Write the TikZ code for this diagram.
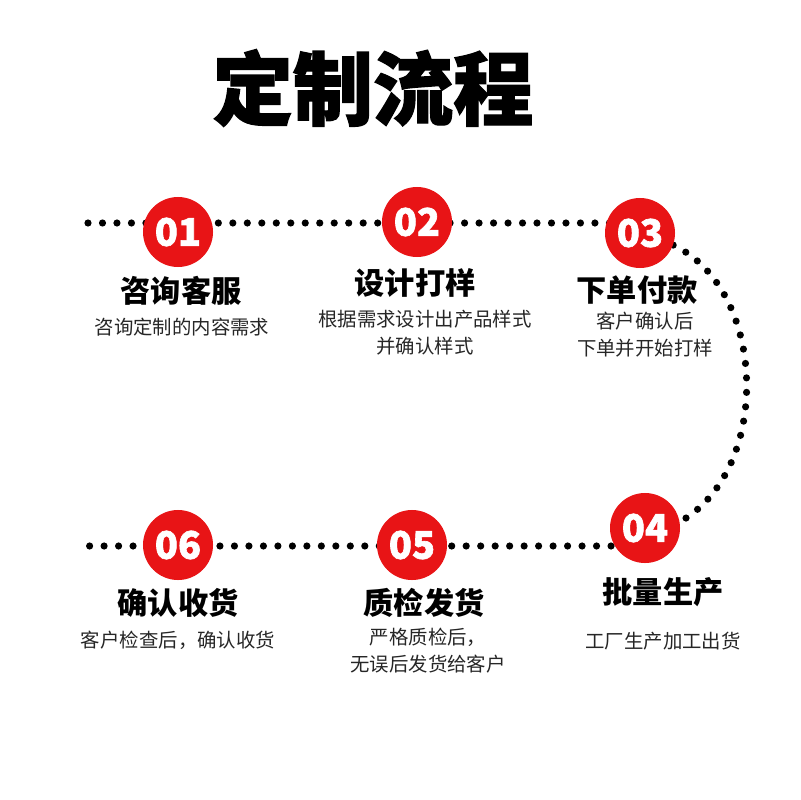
\documentclass[tikz,border=0pt]{standalone}
\usepackage{fontspec}
\setmainfont{Noto Sans CJK SC}
\newfontfamily\heavyfont{Noto Sans CJK SC}[BoldFeatures={FakeBold=1.6}]
\usetikzlibrary{backgrounds}
\definecolor{stepred}{RGB}{232,20,22}
\begin{document}
\begin{tikzpicture}[
  x=0.025cm, y=-0.025cm,
  every node/.style={inner sep=0pt},
  numdot/.style={
    circle,
    fill=stepred,
    minimum size=1.75cm,
    text=white,
    font=\heavyfont\fontsize{27}{27}\selectfont\bfseries
  },
  head/.style={font=\fontsize{21.5}{24}\selectfont\bfseries},
  desc/.style={
    align=center,
    text=black!85,
    font=\fontsize{13.8}{19.2}\selectfont
  },
  trail/.style={line width=5.1pt, line cap=round, dash pattern=on 0pt off 10.3pt}
]
\useasboundingbox (0,0) rectangle (800,800);
\node[font=\heavyfont\fontsize{57}{60}\selectfont\bfseries] (title) at (373,88) {定制流程};

\node[numdot] (c1) at (178,232) {01};
\node[numdot] (c2) at (417,222) {02};
\node[numdot] (c3) at (640,233) {03};
\node[numdot] (c4) at (645,528) {04};
\node[numdot] (c5) at (412,545) {05};
\node[numdot] (c6) at (178,545) {06};

\node[head] (h1) at (181,291) {咨询客服};
\node[desc] (d1) at (182,327) {咨询定制的内容需求};
\node[head] (h2) at (415,283) {设计打样};
\node[desc] (d2) at (425,333) {根据需求设计出产品样式\\并确认样式};
\node[head] (h3) at (637,290) {下单付款};
\node[desc] (d3) at (645,335) {客户确认后\\下单并开始打样};
\node[head] (h4) at (663,592) {批量生产};
\node[desc] (d4) at (663,641) {工厂生产加工出货};
\node[head] (h5) at (424,603) {质检发货};
\node[desc] (d5) at (428,651) {严格质检后，\\无误后发货给客户};
\node[head] (h6) at (178,603) {确认收货};
\node[desc] (d6) at (178,640) {客户检查后，确认收货};

% dotted trail behind the steps
\coordinate (topstart) at (88,223);
\coordinate (topend) at (630,223);
\coordinate (botstart) at (88,546);
\coordinate (botend) at (640,546);
\begin{scope}[on background layer]
\draw[trail] (topstart) -- (topend);
\draw[trail] (c3.-20) .. controls (768,290) and (772,470) .. (c4.10);
\draw[trail] (botend) -- (botstart);
\end{scope}
\end{tikzpicture}
\end{document}
